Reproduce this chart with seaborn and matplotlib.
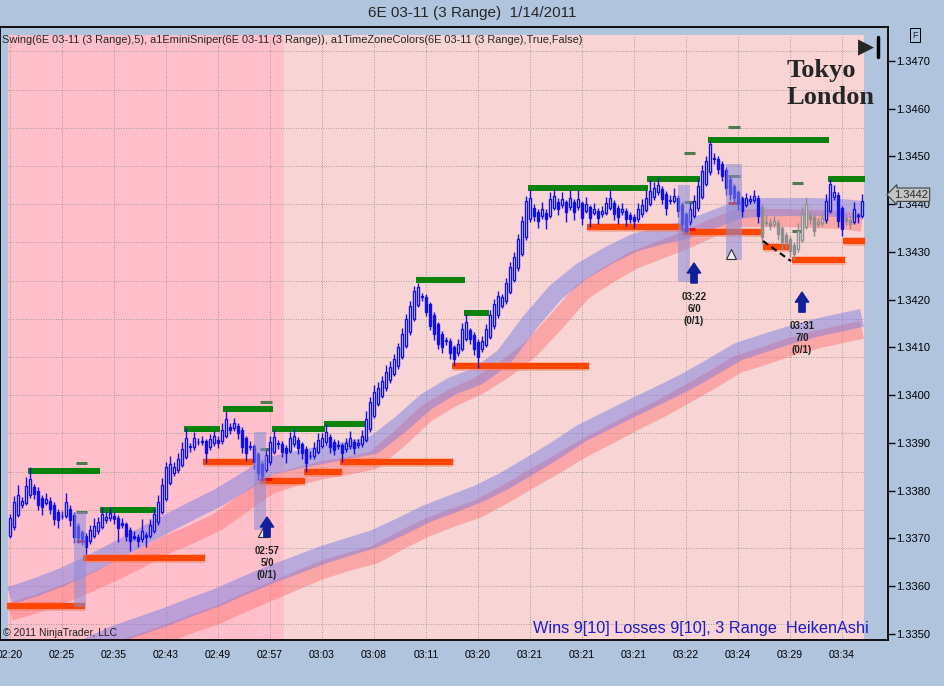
import numpy as np
import pandas as pd
import matplotlib
matplotlib.use('Agg')
import matplotlib.pyplot as plt
import seaborn as sns
from matplotlib.lines import Line2D
from matplotlib.patches import Rectangle

sns.set_style('white')
plt.rcParams['font.family'] = ['Liberation Sans', 'DejaVu Sans']

# ---- data (prices in pips above 1.3000, x in bar numbers) ----
first_open = 370.5
closes = [
    374.2, 377.6, 379.1, 377.8, 380.9, 382.4, 379.3, 377.0, 376.5, 378.3, 376.2, 374.0, 373.8,
    374.8, 377.6, 373.8, 370.3, 370.0, 369.8, 368.2, 371.7, 372.7, 373.4, 375.1, 374.6, 375.3,
    374.0, 372.2, 372.8, 370.6, 369.4, 370.2, 369.5, 371.6, 370.3, 372.8, 375.1, 377.7, 381.2,
    384.9, 385.6, 385.0, 386.6, 388.8, 391.1, 389.3, 391.0, 390.2, 390.5, 387.8, 390.8, 391.4,
    390.0, 392.7, 395.1, 392.8, 394.1, 392.0, 389.2, 387.8, 389.2, 386.1, 383.7, 383.0, 387.5,
    390.3, 391.3, 389.9, 388.2, 387.8, 391.0, 391.5, 388.9, 387.8, 385.8, 387.2, 389.0, 390.6,
    391.0, 392.4, 389.2, 388.5, 389.6, 387.8, 389.9, 391.0, 388.9, 389.9, 391.5, 395.1, 398.5,
    400.7, 401.5, 403.0, 404.8, 405.9, 407.6, 410.0, 412.8, 416.0, 418.7, 421.9, 422.6, 420.5,
    417.5, 414.6, 412.8, 410.7, 410.0, 411.4, 408.8, 407.6, 410.7, 413.9, 415.3, 411.8, 409.7,
    408.0, 411.4, 413.9, 416.7, 419.1, 420.8, 420.5, 423.6, 426.8, 428.9, 432.7, 436.5, 440.7,
    441.4, 437.6, 436.5, 439.0, 436.9, 441.0, 441.7, 439.0, 441.0, 438.3, 441.4, 438.3, 441.0,
    437.2, 440.0, 437.2, 439.0, 437.2, 438.6, 440.3, 441.4, 438.0, 437.4, 439.0, 436.9, 437.0,
    436.5, 439.0, 439.8, 441.4, 442.8, 443.5, 444.0, 441.0, 439.2, 440.8, 441.8, 438.6, 435.9,
    434.5, 439.0, 440.7, 443.9, 447.0, 449.1, 452.6, 449.5, 447.3, 446.0, 443.5, 442.1, 441.4,
    440.0, 438.6, 441.4, 441.0, 441.8, 437.6, 433.1, 436.0, 435.5, 436.5, 433.8, 432.0, 432.0,
    430.3, 429.6, 434.5, 438.0, 440.0, 436.9, 434.5, 436.2, 437.2, 440.7, 444.2, 442.5, 436.5,
    434.8, 436.5, 435.9, 439.0, 437.6, 440.7,
]
wick_up = [
    1.0, 1.4, 2.0, 0.8, 2.0, 2.5, 0.6, 0.8, 0.5, 1.2, 0.8, 0.5, 0.6,
    1.0, 2.0, 0.8, 0.5, 0.6, 0.5, 0.5, 1.2, 1.5, 1.0, 1.5, 1.0, 1.2,
    0.8, 0.5, 1.0, 0.5, 0.6, 1.0, 0.6, 2.4, 0.5, 1.2, 1.0, 1.5, 1.4,
    1.2, 1.6, 1.0, 1.2, 1.5, 2.0, 0.8, 1.2, 0.8, 1.0, 0.6, 1.0, 1.2,
    0.8, 1.5, 1.7, 0.8, 1.2, 0.6, 0.6, 0.5, 1.0, 0.5, 0.5, 0.5, 1.0,
    1.2, 1.5, 0.8, 0.6, 0.5, 1.2, 1.5, 0.6, 0.5, 0.5, 1.0, 1.2, 1.5,
    1.0, 1.5, 0.6, 0.5, 1.0, 0.5, 1.2, 1.5, 0.6, 1.0, 1.2, 1.5, 1.2,
    1.5, 1.2, 1.0, 1.5, 1.2, 1.0, 1.0, 1.2, 1.0, 1.0, 1.0, 1.0, 0.6,
    0.5, 0.5, 0.5, 0.5, 0.6, 0.8, 0.5, 0.5, 1.0, 1.2, 1.7, 0.6, 0.5,
    0.5, 1.0, 1.0, 1.2, 1.0, 1.0, 0.8, 1.0, 1.2, 1.0, 1.0, 1.0, 1.0,
    1.7, 1.0, 0.6, 1.5, 0.8, 1.5, 1.5, 0.8, 1.5, 0.6, 1.5, 0.8, 2.0,
    0.6, 1.5, 0.6, 1.2, 0.6, 1.0, 1.2, 1.7, 0.6, 0.6, 1.2, 0.6, 0.5,
    0.5, 1.2, 1.2, 1.5, 2.4, 1.2, 1.5, 0.6, 0.6, 1.2, 1.5, 0.6, 0.5,
    0.5, 1.2, 1.2, 1.5, 1.2, 1.0, 0.7, 1.0, 0.6, 0.6, 0.5, 0.5, 0.6,
    0.5, 0.5, 1.0, 1.0, 1.2, 0.6, 0.6, 1.5, 1.0, 1.0, 0.6, 0.5, 0.8,
    0.5, 0.5, 1.5, 1.5, 1.5, 0.8, 0.6, 1.0, 1.2, 1.5, 1.1, 1.5, 0.5,
    0.5, 1.0, 0.8, 1.5, 0.6, 1.4,
]
wick_dn = [
    0.5, 0.5, 0.5, 0.6, 0.5, 0.6, 1.0, 1.0, 1.5, 0.6, 1.0, 1.2, 1.5,
    0.6, 0.5, 1.2, 1.2, 1.0, 1.2, 1.5, 0.6, 0.5, 0.6, 0.5, 0.6, 0.6,
    1.0, 3.0, 0.6, 1.2, 2.0, 0.5, 1.2, 0.6, 2.0, 0.5, 0.5, 0.5, 0.5,
    0.5, 0.5, 0.6, 0.5, 0.5, 0.5, 1.0, 0.6, 0.6, 0.6, 2.0, 0.6, 0.5,
    1.0, 0.5, 0.5, 1.0, 0.6, 1.2, 1.2, 1.5, 0.6, 1.5, 1.5, 0.8, 0.5,
    0.5, 0.5, 1.0, 1.2, 2.0, 0.5, 0.5, 1.2, 1.2, 1.8, 0.6, 0.5, 0.5,
    0.5, 0.5, 1.2, 1.0, 0.6, 1.7, 0.5, 0.5, 1.2, 0.6, 0.5, 0.5, 0.5,
    0.5, 0.5, 0.5, 0.5, 0.5, 0.5, 0.5, 0.5, 0.5, 0.5, 0.5, 0.5, 0.8,
    1.0, 1.0, 1.2, 1.0, 1.2, 0.8, 1.2, 1.4, 0.6, 0.5, 0.5, 1.0, 1.2,
    2.2, 0.6, 0.5, 0.5, 0.5, 0.5, 0.6, 0.5, 0.5, 0.5, 0.5, 0.5, 0.5,
    0.5, 1.2, 1.5, 0.6, 2.0, 0.5, 0.5, 1.2, 0.6, 2.0, 0.6, 1.5, 0.6,
    1.5, 0.6, 2.0, 0.6, 1.4, 0.6, 0.5, 0.5, 1.2, 1.5, 0.6, 1.5, 1.0,
    1.5, 0.6, 0.6, 0.5, 0.5, 0.5, 0.5, 1.0, 1.5, 0.6, 0.5, 1.2, 1.5,
    0.5, 0.6, 0.5, 0.5, 0.5, 0.5, 0.5, 1.0, 1.0, 1.2, 1.5, 1.2, 1.0,
    1.2, 1.2, 0.5, 0.6, 0.5, 1.5, 1.5, 0.6, 0.8, 0.6, 1.2, 1.5, 1.2,
    1.4, 1.2, 0.5, 0.5, 0.5, 1.0, 1.2, 0.6, 0.5, 0.5, 0.5, 0.6, 1.2,
    1.5, 0.8, 1.0, 0.5, 1.5, 0.5,
]
grey_bars = list(range(188, 204)) + [209, 210]

tick_labels = ['02:20', '02:25', '02:35', '02:43', '02:49', '02:57', '03:03', '03:08', '03:11',
               '03:20', '03:21', '03:21', '03:21', '03:22', '03:24', '03:29', '03:34']

# moving average ribbons, read every half grid cell
band_bars = [0, 6.5, 13, 19.5, 26, 32.5, 39, 45.5, 52, 58.5, 65, 71.5, 78, 84.5, 91, 97.5, 104,
             110.5, 117, 123.5, 130, 136.5, 143, 149.5, 156, 162.5, 169, 175.5, 182, 188.5, 195,
             201.5, 208, 213]
fast_blue = [358.0, 359.8, 361.9, 364.4, 367.2, 370.1, 373.0, 375.8, 378.5, 381.8, 385.2, 386.4,
             387.5, 388.5, 389.6, 393.8, 398.6, 401.9, 404.0, 408.0, 415.3, 421.6, 426.0, 429.2,
             431.9, 433.4, 434.6, 436.7, 438.8, 439.4, 439.4, 439.4, 439.2, 438.8]
fast_red = [354.6, 356.3, 358.2, 360.5, 363.0, 365.7, 368.6, 370.9, 373.5, 377.4, 381.2, 382.9,
            384.3, 385.2, 386.4, 391.0, 396.1, 399.4, 401.9, 405.3, 409.5, 415.3, 421.6, 425.2,
            428.3, 430.4, 432.5, 435.0, 437.1, 437.1, 437.1, 436.9, 436.7, 436.1]
slow_blue = [338.3, 341.4, 344.5, 347.3, 349.8, 351.7, 353.6, 355.7, 357.7, 360.1, 362.4, 364.4,
             366.5, 368.2, 369.9, 372.4, 375.1, 377.2, 379.3, 382.0, 385.2, 388.5, 392.1, 394.8,
             397.5, 400.1, 402.8, 405.9, 409.1, 410.9, 412.6, 414.1, 415.3, 416.2]
slow_red = [335.1, 338.3, 341.2, 343.7, 346.2, 348.1, 350.0, 352.1, 354.0, 356.5, 358.8, 361.1,
            363.4, 365.1, 366.5, 369.5, 372.2, 374.3, 376.2, 379.1, 382.3, 385.4, 388.7, 391.5,
            394.4, 397.1, 400.1, 403.2, 406.5, 408.2, 410.1, 411.6, 412.8, 413.7]

# swing lines: (start bar, end bar, price)
swing_highs = [(4.5, 22.5, 384.1), (22.5, 36.5, 376.0), (43.5, 52.5, 392.9), (53.25, 65.75, 397.1),
               (65.5, 78.75, 393.0), (78.5, 88.75, 394.0), (101.5, 113.75, 424.1),
               (113.5, 119.75, 417.2), (129.5, 159.5, 443.4), (159.25, 172.5, 445.3),
               (174.5, 204.75, 453.5), (204.5, 213.75, 445.3)]
swing_lows = [(-0.75, 18.75, 355.9), (18.25, 48.75, 366.0), (48.25, 60.75, 386.1),
              (62.5, 73.75, 382.1), (73.5, 83.0, 384.0), (82.5, 110.75, 386.1),
              (110.5, 144.75, 406.1), (144.25, 168.0, 435.2), (168.25, 188.0, 434.2),
              (188.25, 195.0, 431.0), (195.5, 208.75, 428.3), (208.25, 213.75, 432.3)]

# trade marks
target_dashes = [(16.5, 19.25, 385.8), (16.5, 19.25, 375.5), (62.5, 65.5, 398.6), (62.5, 65.5, 388.8),
                 (168.5, 171.25, 450.7), (168.5, 171.25, 440.5), (179.5, 182.5, 456.2),
                 (179.5, 182.5, 446.0), (195.5, 198.25, 444.5), (195.5, 198.25, 434.4)]
stop_dashes = [(16.5, 19.25, 369.5), (62.5, 65.5, 382.5), (168.5, 171.25, 434.8), (179.5, 182.5, 440.3)]
trade_boxes = [(16.0, 19.0, 355.7, 375.6), (61.0, 64.0, 371.8, 392.3),
               (167.0, 170.0, 423.7, 444.0), (179.0, 183.0, 428.3, 448.4)]
signal_bars = [64.25, 171.0, 198.0]
signal_lo = [370.3, 423.5, 417.4]
signal_hi = [374.5, 427.7, 421.6]
signal_text = ['02:57\n5/0\n(0/1)', '03:22\n6/0\n(0/1)', '03:31\n7/0\n(0/1)']
tri_bars = [63.25, 180.25]
tri_price = [371.4, 429.6]
trend_bars = [188.25, 195.25]
trend_price = [432.3, 428.1]
session_split = 68.5
last_price = 442

# ---- Heiken Ashi candles ----
opens = [first_open]
for i in range(1, len(closes)):
    opens.append((opens[-1] + closes[i - 1]) / 2)
df = pd.DataFrame({'bar': np.arange(len(closes)), 'open': opens, 'close': closes,
                   'up': wick_up, 'dn': wick_dn})
df['top'] = df[['open', 'close']].max(axis=1)
df['bot'] = df[['open', 'close']].min(axis=1)
df['col'] = np.where(df['bar'].isin(grey_bars), '#8E8E8E', '#1010EE')

# ---- figure ----
bg = '#B0C4DE'
y_lo, y_hi = 348.74, 477.12
fig = plt.figure(figsize=(9.45, 6.86), dpi=100, facecolor=bg)
ax = fig.add_axes([0, 46 / 686, 888 / 945, 613 / 686])
ax.set_facecolor(bg)
ax.set_xlim(-2.5, 219.5)
ax.set_ylim(y_lo, y_hi)

top_frac = (475.44 - y_lo) / (y_hi - y_lo)
ax.axvspan(-0.5, session_split, ymax=top_frac, color='#FFC0CB', lw=0, zorder=0)
ax.axvspan(session_split, 213.5, ymax=top_frac, color='#F8D4D4', lw=0, zorder=0)

# grid
for b in range(0, 209, 13):
    ax.axvline(b, color='#8A8A8A', lw=0.6, ls=(0, (1, 2)), ymax=top_frac, zorder=1)
for p in np.arange(352, 476, 8):
    ax.hlines(p, -0.5, 213.5, color='#8A8A8A', lw=0.6, ls=(0, (1, 2)), zorder=1)

# ribbons
band_df = pd.DataFrame({'bar': band_bars, 'fast_blue': fast_blue, 'fast_red': fast_red,
                        'slow_blue': slow_blue, 'slow_red': slow_red})
for name, col in [('slow_red', '#FF6E6E'), ('slow_blue', '#6E78E6'),
                  ('fast_red', '#FF6E6E'), ('fast_blue', '#6E78E6')]:
    sns.lineplot(data=band_df, x='bar', y=name, ax=ax, color=col, lw=13, alpha=0.45,
                 solid_joinstyle='round', solid_capstyle='butt', zorder=2)

# swing lines
for s, e, p in swing_lows:
    ax.hlines(p, s, e, color='#FF7A50', lw=6.2, alpha=0.5, zorder=3)
    ax.hlines(p, s, e, color='#FF4500', lw=4.3, zorder=3)
for s, e, p in swing_highs:
    ax.hlines(p, s, e, color='#0A820A', lw=4.3, zorder=3)

# candles
ax.vlines(df['bar'], df['top'], df['top'] + df['up'], colors=df['col'], lw=1.0, zorder=5)
ax.vlines(df['bar'], df['bot'] - df['dn'], df['bot'], colors=df['col'], lw=1.0, zorder=5)
heights = np.maximum(df['top'] - df['bot'], 0.15)
faces = [c if cl < op else '#FFF6F8' for c, cl, op in zip(df['col'], df['close'], df['open'])]
ax.bar(df['bar'], heights, bottom=df['bot'], width=0.7, color=faces, edgecolor=df['col'],
       linewidth=1.0, zorder=6)

# trade marks
for s, e, p in target_dashes:
    ax.hlines(p, s, e, color='#4E7A4E', lw=2.2, zorder=4)
for s, e, p in stop_dashes:
    ax.hlines(p, s, e, color='#E01010', lw=2.2, zorder=4)
for s, e, lo, hi in trade_boxes:
    ax.add_patch(Rectangle((s, lo), e - s, hi - lo, fc='#8C8CD8', ec='none', alpha=0.55, zorder=7))
ax.plot(tri_bars, tri_price, ls='none', marker='^', ms=7, mfc='#ECECF4', mec='#303030', mew=0.8, zorder=8)
ax.plot(trend_bars, trend_price, ls=(0, (3, 2)), color='black', lw=1.5, zorder=8)
for b, lo, hi, t in zip(signal_bars, signal_lo, signal_hi, signal_text):
    ax.annotate('', xy=(b, hi), xytext=(b, lo),
                arrowprops=dict(arrowstyle='simple,head_width=0.8,head_length=0.6,tail_width=0.38',
                                mutation_scale=12, color='#10209A', shrinkA=0, shrinkB=0), zorder=9)
    ax.text(b, lo - 1.9, t, ha='center', va='top', fontsize=7, fontweight='bold',
            color='#202020', linespacing=1.25, zorder=9)

# axes styling
ax.set_xticks(range(0, 209, 13))
ax.set_xticklabels(tick_labels)
yt = np.arange(350, 471, 10)
ax.set_yticks(yt)
ax.set_yticklabels(['1.3%03d' % v for v in yt])
ax.yaxis.tick_right()
ax.tick_params(axis='y', direction='out', length=5, width=1, pad=1, labelsize=8, colors='black')
ax.tick_params(axis='x', direction='out', length=5, width=1, pad=2, labelsize=7.5, colors='black')
ax.set_xlabel('')
ax.set_ylabel('')
for sp in ax.spines.values():
    sp.set_visible(True)
    sp.set_color('black')
    sp.set_linewidth(1.3)

ax.text(221.0, last_price, '1.3442', ha='left', va='center', fontsize=8, clip_on=False, zorder=10,
        bbox=dict(boxstyle='larrow,pad=0.15', fc='#C4C4C4', ec='#404040', lw=0.8))

# texts
fig.text(0.5, 1 - 13 / 686, '6E 03-11 (3 Range)  1/14/2011', ha='center', va='center', fontsize=11)
fig.text(2 / 945, 1 - 40 / 686,
         'Swing(6E 03-11 (3 Range),5), a1EminiSniper(6E 03-11 (3 Range)), '
         'a1TimeZoneColors(6E 03-11 (3 Range),True,False)', ha='left', va='center', fontsize=7.9)
fig.text(787 / 945, 1 - 70 / 686, 'Tokyo', ha='left', va='center', fontsize=19,
         family='Liberation Serif', fontweight='bold')
fig.text(787 / 945, 1 - 98 / 686, 'London', ha='left', va='center', fontsize=19,
         family='Liberation Serif', fontweight='bold')
fig.text(866 / 945, 1 - 47 / 686, '▶', ha='center', va='center', fontsize=15, family='DejaVu Sans')
fig.add_artist(Line2D([878 / 945, 878 / 945], [1 - 37 / 686, 1 - 57 / 686], color='black', lw=2.5))
fig.text(915 / 945, 1 - 35 / 686, 'F', ha='center', va='center', fontsize=6.5,
         bbox=dict(boxstyle='square,pad=0.25', fc='none', ec='black', lw=0.7))
fig.text(533 / 945, 1 - 628 / 686, 'Wins 9[10] Losses 9[10], 3 Range  HeikenAshi',
         ha='left', va='center', fontsize=11.7, color='#1C1CCC')
fig.text(3 / 945, 1 - 633 / 686, '© 2011 NinjaTrader, LLC', ha='left', va='center', fontsize=7.5,
         color='#202020')

fig.savefig('out.png', dpi=100, facecolor=bg)
